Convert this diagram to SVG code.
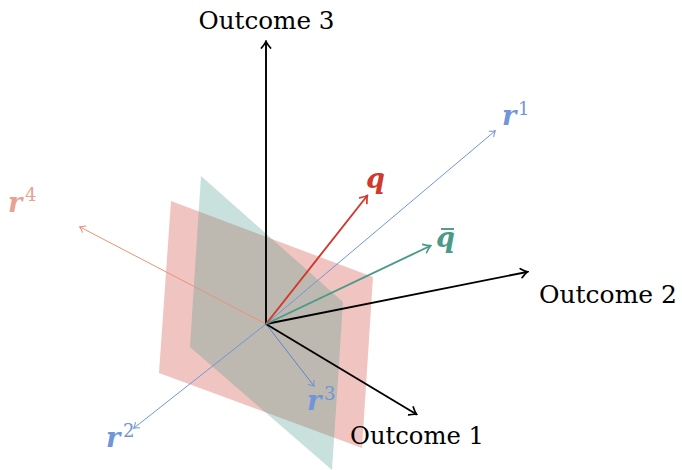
<svg xmlns="http://www.w3.org/2000/svg" width="682" height="470" viewBox="0 0 682 470">
<style>
.lbl{font-family:'DejaVu Serif','Liberation Serif',serif;font-size:25px;fill:#000}
.math{font-family:'DejaVu Serif','Liberation Serif',serif;font-style:italic;font-weight:bold;font-size:27px}
.sup{font-family:'DejaVu Serif','Liberation Serif',serif;font-size:18px}
.ax{stroke:#000;stroke-width:1.9;fill:none}
.thin{stroke-width:1;fill:none}
</style>
<defs>
<marker id="hk" viewBox="-7 -6 9 12" markerWidth="9" markerHeight="12" refX="0" refY="0" orient="auto" markerUnits="userSpaceOnUse">
<path d="M-6,-4.6 Q-1.6,-0.9 0.8,0 Q-1.6,0.9 -6,4.6" fill="none" stroke="#000" stroke-width="1.7" stroke-linecap="round"/>
</marker>
<marker id="hr" viewBox="-7 -6 9 12" markerWidth="9" markerHeight="12" refX="0" refY="0" orient="auto" markerUnits="userSpaceOnUse">
<path d="M-6,-4.6 Q-1.6,-0.9 0.8,0 Q-1.6,0.9 -6,4.6" fill="none" stroke="#d0392c" stroke-width="1.7" stroke-linecap="round"/>
</marker>
<marker id="ht" viewBox="-7 -6 9 12" markerWidth="9" markerHeight="12" refX="0" refY="0" orient="auto" markerUnits="userSpaceOnUse">
<path d="M-6,-4.6 Q-1.6,-0.9 0.8,0 Q-1.6,0.9 -6,4.6" fill="none" stroke="#4a9a8a" stroke-width="1.7" stroke-linecap="round"/>
</marker>
<marker id="hb" viewBox="-6 -5 8 10" markerWidth="8" markerHeight="10" refX="0" refY="0" orient="auto" markerUnits="userSpaceOnUse">
<path d="M-4.6,-3.5 Q-1.2,-0.6 0.4,0 Q-1.2,0.6 -4.6,3.5" fill="none" stroke="#7095d8" stroke-width="1" stroke-linecap="round"/>
</marker>
<marker id="hs" viewBox="-6 -5 8 10" markerWidth="8" markerHeight="10" refX="0" refY="0" orient="auto" markerUnits="userSpaceOnUse">
<path d="M-4.6,-3.5 Q-1.2,-0.6 0.4,0 Q-1.2,0.6 -4.6,3.5" fill="none" stroke="#e8937c" stroke-width="1" stroke-linecap="round"/>
</marker>
</defs>
<g id="planes">
<polygon id="plane-red" points="171,201 373,277 362,448 159,373" fill="#cd3a2e" fill-opacity="0.3"/>
<polygon id="plane-teal" points="201,176 343,302 332,470 190,347" fill="#4a9a8a" fill-opacity="0.3"/>
</g>
<g id="connectors">
<line class="thin" x1="266" y1="324" x2="80" y2="227" stroke="#e8937c" marker-end="url(#hs)"/>
<line class="thin" x1="266" y1="324" x2="495" y2="131" stroke="#7095d8" marker-end="url(#hb)"/>
<line class="thin" x1="266" y1="324" x2="134" y2="428" stroke="#7095d8" marker-end="url(#hb)"/>
<line class="thin" x1="266" y1="324" x2="314" y2="386" stroke="#5f85cf" marker-end="url(#hb)"/>
<line class="ax" x1="266" y1="324" x2="266" y2="42" marker-end="url(#hk)"/>
<line class="ax" x1="266" y1="324" x2="527" y2="272" marker-end="url(#hk)"/>
<line class="ax" x1="266" y1="324" x2="416" y2="414" marker-end="url(#hk)"/>
<line x1="266" y1="324" x2="367" y2="196" stroke="#d0392c" stroke-width="1.9" marker-end="url(#hr)"/>
<line x1="266" y1="324" x2="430" y2="246" stroke="#4a9a8a" stroke-width="1.9" marker-end="url(#ht)"/>
</g>
<g id="outcome3"><text class="lbl" x="266.5" y="29" text-anchor="middle" textLength="136" lengthAdjust="spacingAndGlyphs">Outcome 3</text></g>
<g id="outcome2"><text class="lbl" x="539" y="303" textLength="138" lengthAdjust="spacingAndGlyphs">Outcome 2</text></g>
<g id="outcome1"><text class="lbl" x="350" y="444" textLength="134" lengthAdjust="spacingAndGlyphs">Outcome 1</text></g>
<g id="q"><text class="math" x="366" y="188" fill="#d0392c">q</text></g>
<g id="qbar"><text class="math" x="436" y="247" fill="#4a9a8a">q</text><line x1="441" y1="229" x2="454" y2="229" stroke="#4a9a8a" stroke-width="1.9"/></g>
<g id="r1" fill="#7095d8"><text class="math" x="502" y="125">r</text><text class="sup" x="518" y="115">1</text></g>
<g id="r2" fill="#7095d8"><text class="math" x="106" y="447">r</text><text class="sup" x="123" y="437">2</text></g>
<g id="r3" fill="#7095d8"><text class="math" x="307" y="410">r</text><text class="sup" x="324" y="400">3</text></g>
<g id="r4" fill="#e8a28f"><text class="math" x="8" y="212">r</text><text class="sup" x="25" y="201">4</text></g>
</svg>
